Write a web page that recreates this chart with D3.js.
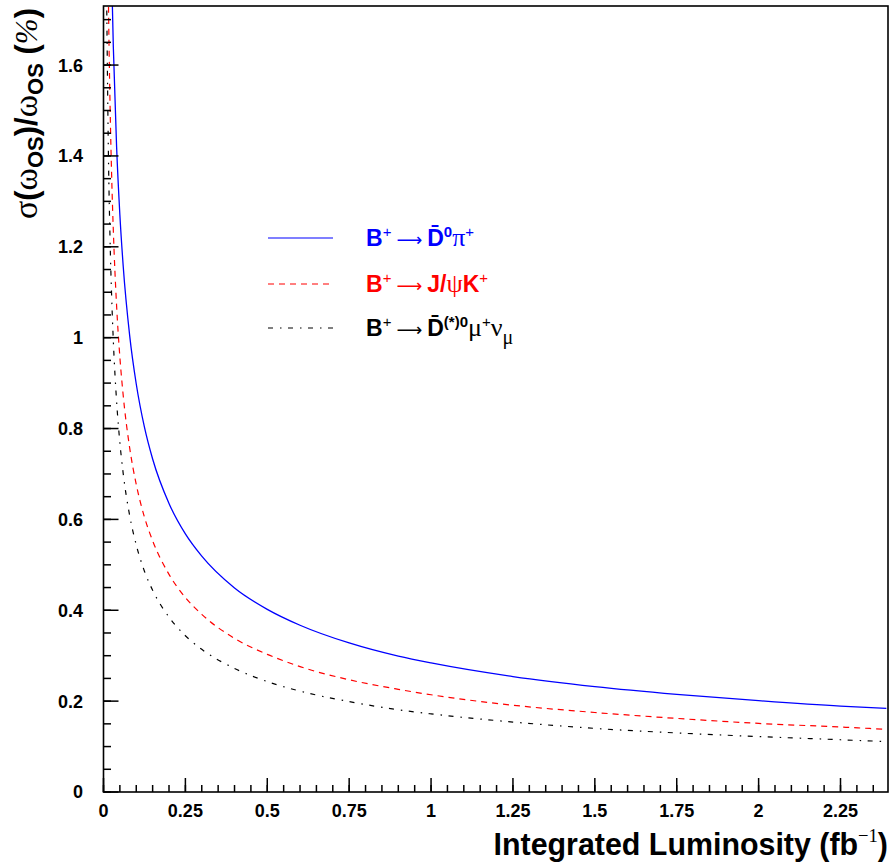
<!DOCTYPE html>
<html>
<head>
<meta charset="utf-8">
<script src="https://cdn.jsdelivr.net/npm/d3@7"></script>
<style>
  html, body { margin: 0; padding: 0; background: #fff; }
  svg { display: block; }
  text { font-family: "Liberation Sans", Arial, Helvetica, sans-serif; }
</style>
</head>
<body>
<svg id="chart" width="894" height="865"></svg>
<script>
// Integrated luminosity samples (fb^-1)
const lumi = [0.01, 0.015, 0.02, 0.025, 0.03, 0.04, 0.05, 0.06, 0.08, 0.1, 0.125, 0.15, 0.2, 0.25,
              0.3, 0.4, 0.5, 0.6, 0.75, 0.9, 1.0, 1.25, 1.5, 1.75, 2.0, 2.25, 2.39];

// Relative uncertainty on the OS mistag fraction (%), per calibration channel
const dpi = [2.84, 2.319, 2.008, 1.796, 1.640, 1.420, 1.270, 1.159, 1.004, 0.898, 0.803, 0.733, 0.635, 0.568,
             0.519, 0.449, 0.402, 0.367, 0.328, 0.299, 0.284, 0.254, 0.232, 0.215, 0.201, 0.189, 0.184];
const jpsik = [2.14, 1.747, 1.513, 1.353, 1.236, 1.070, 0.957, 0.874, 0.757, 0.677, 0.605, 0.553, 0.479, 0.428,
               0.391, 0.338, 0.303, 0.276, 0.247, 0.226, 0.214, 0.191, 0.175, 0.162, 0.151, 0.143, 0.138];
const dmunu = [1.72, 1.404, 1.216, 1.088, 0.993, 0.860, 0.769, 0.702, 0.608, 0.544, 0.486, 0.444, 0.385, 0.344,
               0.314, 0.272, 0.243, 0.222, 0.199, 0.181, 0.172, 0.154, 0.140, 0.130, 0.122, 0.115, 0.111];

const xTickLabels = ["0", "0.25", "0.5", "0.75", "1", "1.25", "1.5", "1.75", "2", "2.25"];
const yTickLabels = ["0", "0.2", "0.4", "0.6", "0.8", "1", "1.2", "1.4", "1.6"];

const svg = d3.select("#chart");
const plotL = 103.5, plotR = 888, plotT = 6, plotB = 792;

const x = d3.scaleLinear().domain([0, 2.395]).range([plotL, plotR]);
const y = d3.scaleLinear().domain([0, 1.73]).range([plotB, plotT]);

svg.append("defs").append("clipPath").attr("id", "plotclip")
  .append("rect").attr("x", plotL).attr("y", plotT).attr("width", plotR - plotL).attr("height", plotB - plotT);

// Curves
const line = d3.line().x((d, i) => x(lumi[i])).y(d => y(d)).curve(d3.curveMonotoneX);
const series = [
  { values: dpi,   color: "#0000ff", dash: null,             width: 1.3 },
  { values: jpsik, color: "#ff0000", dash: "6,5",            width: 1.2 },
  { values: dmunu, color: "#000000", dash: "5,7,1.5,6.5",    width: 1.2 }
];
const gCurves = svg.append("g").attr("clip-path", "url(#plotclip)");
series.forEach(s => {
  gCurves.append("path")
    .attr("d", line(s.values))
    .attr("fill", "none")
    .attr("stroke", s.color)
    .attr("stroke-width", s.width)
    .attr("stroke-dasharray", s.dash);
});

// Frame
svg.append("rect").attr("x", plotL).attr("y", plotT).attr("width", plotR - plotL).attr("height", plotB - plotT)
  .attr("fill", "none").attr("stroke", "#000").attr("stroke-width", 1.6);

// Ticks (drawn inward)
const xMajor = d3.range(0, 2.26, 0.25);
const xMinor = d3.range(0, 2.391, 0.05);
const yMajor = d3.range(0, 1.61, 0.2);
const yMinor = d3.range(0, 1.71, 0.05);
const gt = svg.append("g").attr("stroke", "#000").attr("stroke-width", 1.5);
xMinor.forEach(v => gt.append("line").attr("x1", x(v)).attr("x2", x(v)).attr("y1", plotB).attr("y2", plotB - 7));
xMajor.forEach(v => gt.append("line").attr("x1", x(v)).attr("x2", x(v)).attr("y1", plotB).attr("y2", plotB - 14));
yMinor.forEach(v => gt.append("line").attr("x1", plotL).attr("x2", plotL + 7.5).attr("y1", y(v)).attr("y2", y(v)));
yMajor.forEach(v => gt.append("line").attr("x1", plotL).attr("x2", plotL + 15).attr("y1", y(v)).attr("y2", y(v)));

// Tick labels
svg.append("g").selectAll("text").data(xMajor).join("text")
  .attr("x", d => x(d)).attr("y", 817)
  .attr("text-anchor", "middle").attr("font-size", 18).attr("font-weight", "bold")
  .text((d, i) => xTickLabels[i]);
svg.append("g").selectAll("text").data(yMajor).join("text")
  .attr("x", 83).attr("y", d => y(d)).attr("dy", "0.36em")
  .attr("text-anchor", "end").attr("font-size", 18).attr("font-weight", "bold")
  .text((d, i) => yTickLabels[i]);

// X axis title
const xt = svg.append("text").attr("transform", "translate(888,855) scale(0.98,1)")
  .attr("text-anchor", "end").attr("font-size", 31).attr("font-weight", "bold");
xt.append("tspan").text("Integrated Luminosity (fb");
xt.append("tspan").attr("font-size", 19).attr("font-weight", "normal").attr("dy", -13)
  .attr("font-family", "Liberation Serif").text("\u22121");
xt.append("tspan").attr("dy", 13).text(")");

// Y axis title
const yt = svg.append("text")
  .attr("transform", "translate(37,8) rotate(-90)")
  .attr("text-anchor", "end").attr("font-size", 31).attr("font-weight", "bold");
const greek = "Liberation Serif";
yt.append("tspan").attr("font-family", greek).attr("font-weight", "normal").attr("font-size", 34).text("\u03c3");
yt.append("tspan").text("(");
yt.append("tspan").attr("font-family", greek).attr("font-weight", "normal").attr("font-size", 34).text("\u03c9");
yt.append("tspan").attr("font-size", 22).attr("dy", 6).text("OS");
yt.append("tspan").attr("dy", -6).text(")/");
yt.append("tspan").attr("font-family", greek).attr("font-weight", "normal").attr("font-size", 34).text("\u03c9");
yt.append("tspan").attr("font-size", 22).attr("dy", 6).text("OS");
yt.append("tspan").attr("dy", -6).text(" (");
yt.append("tspan").attr("font-family", greek).attr("font-weight", "normal").attr("font-style", "italic").text("%");
yt.append("tspan").text(")");

// Legend
const legendRows = [
  { color: "#0000ff", dash: null, y: 238, parts: [
      ["B", "b"], ["+", "sup"], ["\u27f6", "arrow"], ["D\u0304", "bg"], ["0", "supb"], ["\u03c0", "sym"], ["+", "sup"] ] },
  { color: "#ff0000", dash: "6,5", y: 284, parts: [
      ["B", "b"], ["+", "sup"], ["\u27f6", "arrow"], ["J/", "bg"], ["\u03c8", "sym"], ["K", "b"], ["+", "sup"] ] },
  { color: "#000000", dash: "5,7,1.5,6.5", y: 328, parts: [
      ["B", "b"], ["+", "sup"], ["\u27f6", "arrow"], ["D\u0304", "bg"], ["(*)0", "supb"], ["\u03bc", "sym"], ["+", "sup"],
      ["\u03bd", "sym"], ["\u03bc", "sub"] ] }
];
const gl = svg.append("g");
legendRows.forEach(r => {
  gl.append("line").attr("x1", 268).attr("x2", 333).attr("y1", r.y).attr("y2", r.y)
    .attr("stroke", r.color).attr("stroke-width", 1.2).attr("stroke-dasharray", r.dash);
  const t = gl.append("text").attr("x", 366).attr("y", r.y + 8).attr("fill", r.color).attr("font-size", 23);
  let shift = 0;
  r.parts.forEach(([s, kind]) => {
    const sp = t.append("tspan").text(s);
    let target = 0;
    if (kind === "b") { sp.attr("font-weight", "bold"); }
    else if (kind === "bg") { sp.attr("font-weight", "bold").attr("dx", 5); }
    else if (kind === "arrow") { sp.attr("font-family", "DejaVu Sans").attr("font-size", 18).attr("dx", 5); target = 0; }
    else if (kind === "sym") { sp.attr("font-family", greek).attr("font-size", 26); }
    else if (kind === "sup") { sp.attr("font-size", 15); target = -9; }
    else if (kind === "supb") { sp.attr("font-size", 15).attr("font-weight", "bold"); target = -9; }
    else if (kind === "sub") { sp.attr("font-family", greek).attr("font-size", 20); target = 8; }
    sp.attr("dy", target - shift);
    shift = target;
  });
});
</script>
</body>
</html>
